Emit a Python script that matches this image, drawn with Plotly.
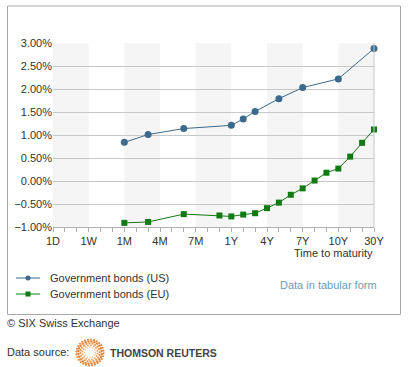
import numpy as np
import plotly.graph_objects as go

# ---------------- data ----------------
TENORS = ["1D", "2D", "3D", "1W", "2W", "3W", "1M", "2M", "3M", "4M", "5M", "6M",
          "7M", "8M", "9M", "1Y", "2Y", "3Y", "4Y", "5Y", "6Y", "7Y", "8Y", "9Y",
          "10Y", "15Y", "20Y", "30Y"]
TICK_LABELS = ["1D", "1W", "1M", "4M", "7M", "1Y", "4Y", "7Y", "10Y", "30Y"]

us_tenors = ["1M", "3M", "6M", "1Y", "2Y", "3Y", "5Y", "7Y", "10Y", "30Y"]
us_yields = [0.84, 1.01, 1.14, 1.21, 1.35, 1.51, 1.79, 2.03, 2.22, 2.88]

eu_tenors = ["1M", "3M", "6M", "9M", "1Y", "2Y", "3Y", "4Y", "5Y", "6Y", "7Y",
             "8Y", "9Y", "10Y", "15Y", "20Y", "30Y"]
eu_yields = [-0.91, -0.89, -0.72, -0.75, -0.77, -0.73, -0.70, -0.59, -0.47,
             -0.30, -0.16, 0.01, 0.18, 0.27, 0.53, 0.83, 1.12]

SERIES_NAMES = ["Government bonds (US)", "Government bonds (EU)"]

# ---------------- layout geometry (pixels) ----------------
W, H = 413, 367
L, R, T, B = 53, 374, 43, 227
PW, PH = R - L, B - T


def xp(px):
    return (px - L) / PW


def yp(py):
    return (B - py) / PH


FONT = "Liberation Sans, Arial, sans-serif"
TXT = "#333333"
US_COL = "#3b6a8c"
EU_COL = "#127a12"

idx = {t: i for i, t in enumerate(TENORS)}

fig = go.Figure()
fig.add_trace(go.Scatter(
    x=[idx[t] for t in us_tenors], y=us_yields, mode="lines+markers",
    name=SERIES_NAMES[0],
    line=dict(color=US_COL, width=1),
    marker=dict(symbol="circle", size=7, color=US_COL),
    cliponaxis=False, showlegend=False,
))
fig.add_trace(go.Scatter(
    x=[idx[t] for t in eu_tenors], y=eu_yields, mode="lines+markers",
    name=SERIES_NAMES[1],
    line=dict(color=EU_COL, width=1),
    marker=dict(symbol="square", size=6, color=EU_COL),
    cliponaxis=False, showlegend=False,
))

shapes = []
# alternating grey bands between labelled ticks
tick_pos = [idx[t] for t in TICK_LABELS]
for k in range(0, len(tick_pos) - 1, 2):
    shapes.append(dict(type="rect", xref="x", yref="paper",
                       x0=tick_pos[k], x1=tick_pos[k + 1], y0=0, y1=1,
                       fillcolor="#f5f5f5", line=dict(width=0), layer="below"))
# right edge line
shapes.append(dict(type="line", xref="paper", yref="paper", x0=1, x1=1, y0=0, y1=1,
                   line=dict(color="#c8c8c8", width=1)))
# outer frame
shapes.append(dict(type="rect", xref="paper", yref="paper",
                   x0=xp(7.5), x1=xp(400.5), y0=yp(6), y1=yp(314.5),
                   line=dict(color="#a8a8a8", width=1), fillcolor="rgba(0,0,0,0)"))

annotations = []
# manual legend
leg_rows = [(278, US_COL, "circle"), (294, EU_COL, "square")]
for (py, col, sym), name in zip(leg_rows, SERIES_NAMES):
    shapes.append(dict(type="line", xref="paper", yref="paper",
                       x0=xp(16), x1=xp(40), y0=yp(py), y1=yp(py),
                       line=dict(color=col, width=1)))
    r = 2.5
    shapes.append(dict(type=sym == "circle" and "circle" or "rect",
                       xref="paper", yref="paper",
                       x0=xp(28 - r), x1=xp(28 + r), y0=yp(py + r), y1=yp(py - r),
                       fillcolor=col, line=dict(width=0)))
    annotations.append(dict(text=name, xref="paper", yref="paper", x=xp(48), y=yp(py),
                            xanchor="left", yanchor="middle", showarrow=False,
                            font=dict(family=FONT, size=11, color=TXT)))

# Thomson Reuters sunburst logo (decoration)
cx, cy = 90, 352.5
rings = [(5.5, 12, 0.8, "#f6c08e"), (7.6, 16, 1.0, "#f2a868"), (9.7, 20, 1.1, "#ec9448"),
         (11.8, 24, 1.2, "#e6853a"), (13.6, 28, 1.1, "#e58a45")]
for ri, (rad, n, dr, col) in enumerate(rings):
    for j in range(n):
        a = 2 * np.pi * j / n + ri * 0.13
        px = cx + rad * np.cos(a)
        py = cy + rad * np.sin(a) * 0.95
        shapes.append(dict(type="circle", xref="paper", yref="paper",
                           x0=xp(px - dr), x1=xp(px + dr),
                           y0=yp(py + dr), y1=yp(py - dr),
                           fillcolor=col, line=dict(width=0)))

annotations += [
    dict(text="Time to maturity", xref="paper", yref="paper", x=xp(375), y=yp(253),
         xanchor="right", yanchor="middle", showarrow=False,
         font=dict(family=FONT, size=11, color=TXT)),
    dict(text="Data in tabular form", xref="paper", yref="paper", x=xp(278), y=yp(285),
         xanchor="left", yanchor="middle", showarrow=False,
         font=dict(family=FONT, size=11, color="#6b9bb8")),
    dict(text="© SIX Swiss Exchange", xref="paper", yref="paper", x=xp(5), y=yp(323),
         xanchor="left", yanchor="middle", showarrow=False,
         font=dict(family=FONT, size=11, color=TXT)),
    dict(text="Data source:", xref="paper", yref="paper", x=xp(5), y=yp(352),
         xanchor="left", yanchor="middle", showarrow=False,
         font=dict(family=FONT, size=11, color=TXT)),
    dict(text="<b>THOMSON REUTERS</b>", xref="paper", yref="paper", x=xp(108), y=yp(353),
         xanchor="left", yanchor="middle", showarrow=False,
         font=dict(family=FONT, size=10.5, color="#444444")),
]

fig.update_layout(
    width=W, height=H,
    margin=dict(l=L, r=W - R, t=T, b=H - B, pad=0),
    paper_bgcolor="white", plot_bgcolor="white",
    font=dict(family=FONT, size=11, color=TXT),
    showlegend=False,
    shapes=shapes, annotations=annotations,
    xaxis=dict(range=[0, len(TENORS) - 1], tickmode="array", tickvals=tick_pos,
               ticktext=TICK_LABELS, ticks="outside", ticklen=4, tickcolor="#b0b0b0",
               showgrid=False, zeroline=False, showline=True, linecolor="#b0b0b0",
               linewidth=1, fixedrange=True,
               minor=dict(tickmode="linear", tick0=0, dtick=1, ticks="outside",
                          ticklen=4, tickcolor="#b0b0b0", showgrid=False),
               tickfont=dict(family=FONT, size=11, color=TXT)),
    yaxis=dict(range=[-1, 3], dtick=0.5, tick0=-1, tickformat=".2f", ticksuffix="%",
               showgrid=True, gridcolor="#c8c8c8", gridwidth=1, zeroline=False,
               showline=False, ticks="", fixedrange=True,
               tickfont=dict(family=FONT, size=11, color=TXT)),
)

fig.write_html("out.html", config={"displayModeBar": False},
               post_script="document.body.style.margin='0px';")
